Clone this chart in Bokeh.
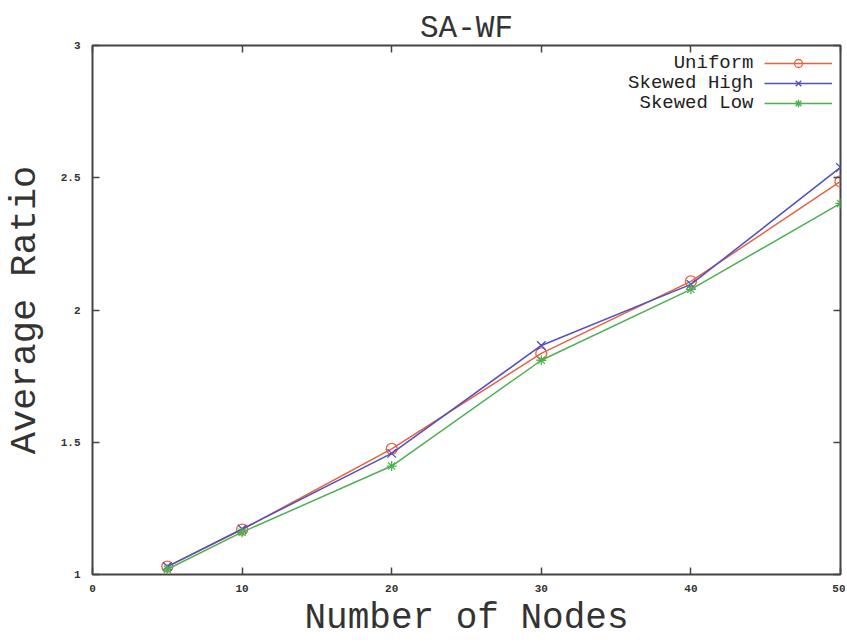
from bokeh.plotting import figure
from bokeh.models import Legend, LegendItem, LinearAxis, Range1d, FixedTicker, Label
from bokeh.embed import file_html
from bokeh.resources import INLINE

nodes = [5, 10, 20, 30, 40, 50]
uniform = [1.03, 1.17, 1.475, 1.836, 2.108, 2.486]
skewed_high = [1.03, 1.172, 1.458, 1.866, 2.097, 2.539]
skewed_low = [1.02, 1.16, 1.41, 1.81, 2.078, 2.403]
series_names = ["Uniform", "Skewed High", "Skewed Low"]

x_ticks = [0, 10, 20, 30, 40, 50]
y_ticks = [1, 1.5, 2, 2.5, 3]
y_tick_labels = {1: "1", 1.5: "1.5", 2: "2", 2.5: "2.5", 3: "3"}

FONT = "Liberation Mono"
INK = "#333333"
BL, BR, BT, BB = 91, 5, 45, 68
W, H = 845, 642
FW, FH = W - BL - BR, H - BT - BB

p = figure(width=W, height=H, output_backend="svg", toolbar_location=None,
           x_range=Range1d(0, 50), y_range=Range1d(1, 3),
           title="SA-WF", min_border_left=BL, min_border_right=BR,
           min_border_top=BT, min_border_bottom=BB)
p.title.align = "center"
p.title.text_font = FONT
p.title.text_font_size = "31px"
p.title.text_font_style = "normal"
p.title.text_color = INK
p.title.offset = 0
p.title.standoff = 0

p.grid.visible = False
p.outline_line_color = "#444444"
p.outline_line_width = 2
p.background_fill_color = "white"
p.border_fill_color = "white"

bottom_ax = p.below[0]
left_ax = p.left[0]
bottom_ax.ticker = FixedTicker(ticks=x_ticks)
bottom_ax.axis_label = "Number of Nodes"
left_ax.ticker = FixedTicker(ticks=y_ticks)
left_ax.major_label_overrides = y_tick_labels
left_ax.axis_label = "Average Ratio"

top_ax = LinearAxis(ticker=FixedTicker(ticks=x_ticks))
right_ax = LinearAxis(ticker=FixedTicker(ticks=y_ticks))
p.add_layout(top_ax, "above")
p.add_layout(right_ax, "right")

for ax in (bottom_ax, left_ax, top_ax, right_ax):
    ax.axis_line_color = None
    ax.major_tick_in = 7
    ax.major_tick_out = 0
    ax.major_tick_line_color = "#444444"
    ax.major_tick_line_width = 1.5
    ax.minor_tick_line_color = None
    ax.major_label_text_font = FONT
    ax.major_label_text_font_size = "11px"
    ax.major_label_text_font_style = "bold"
    ax.major_label_text_color = INK
    ax.axis_label_text_font = FONT
    ax.axis_label_text_font_style = "normal"
    ax.axis_label_text_color = INK

for ax in (top_ax, right_ax):
    ax.major_label_text_color = None
    ax.major_label_text_font_size = "1px"
    ax.major_label_standoff = 0
    ax.axis_label_standoff = 0
    ax.axis_label = None

bottom_ax.axis_label_text_font_size = "36px"
left_ax.axis_label_text_font_size = "37px"
bottom_ax.axis_label_standoff = 3
left_ax.axis_label_standoff = 12
bottom_ax.major_label_standoff = 10
left_ax.major_label_standoff = 12

c_u, c_h, c_l = "#e8603c", "#5050c0", "#4cb050"

lu = p.line(nodes, uniform, line_color=c_u, line_width=1.5)
mu = p.scatter(nodes, uniform, marker="circle", size=11, fill_color=None, line_color=c_u, line_width=1.3)
lh = p.line(nodes, skewed_high, line_color=c_h, line_width=1.5)
mh = p.scatter(nodes, skewed_high, marker="x", size=12, line_color=c_h, line_width=1.3)
ll = p.line(nodes, skewed_low, line_color=c_l, line_width=1.5)
ml = p.scatter(nodes, skewed_low, marker="asterisk", size=10, line_color=c_l, line_width=1.3)

# Legend: glyph samples on the right (gnuplot style), texts right-aligned to their left
legend = Legend(items=[
    LegendItem(label=" ", renderers=[lu, mu]),
    LegendItem(label=" ", renderers=[lh, mh]),
    LegendItem(label=" ", renderers=[ll, ml]),
], location="top_right")
legend.label_text_color = None
legend.label_width = 0
legend.label_standoff = 0
legend.border_line_color = None
legend.background_fill_alpha = 0
legend.glyph_width = 68
legend.glyph_height = 20
legend.label_height = 20
legend.spacing = 0
legend.padding = 0
legend.margin = 8
p.add_layout(legend)

for i, name in enumerate(series_names):
    p.add_layout(Label(x=FW - 88, y=FH - 17 - 20 * i, x_units="screen", y_units="screen",
                       text=name, text_font=FONT, text_font_size="19px", text_color="#222222",
                       text_align="right", text_baseline="middle"))

open("out.html", "w").write(file_html(p, INLINE))
